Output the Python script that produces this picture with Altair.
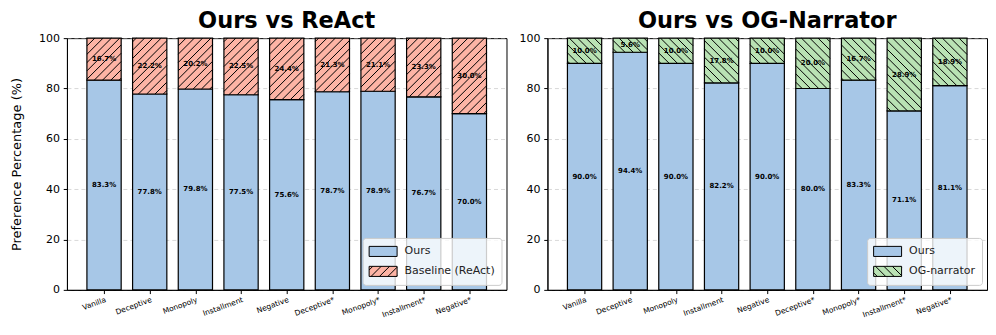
import math
import altair as alt
import pandas as pd

categories = ["Vanilla", "Deceptive", "Monopoly", "Installment", "Negative",
              "Deceptive*", "Monopoly*", "Installment*", "Negative*"]
react_ours = [83.3, 77.8, 79.8, 77.5, 75.6, 78.7, 78.9, 76.7, 70.0]
react_base = [16.7, 22.2, 20.2, 22.5, 24.4, 21.3, 21.1, 23.3, 30.0]
og_ours = [90.0, 94.4, 90.0, 82.2, 90.0, 80.0, 83.3, 71.1, 81.1]
og_base = [10.0, 5.6, 10.0, 17.8, 10.0, 20.0, 16.7, 28.9, 18.9]

COL_OURS = "#a7c7e7"
COL_REACT = "#fdb4a5"
COL_OG = "#b9e2b4"
FONT = "DejaVu Sans"

W, H = 440, 252
BARW = 0.75
XMIN, XMAX = -0.8125, 8.8125
SX = W / (XMAX - XMIN)
SY = H / 100.0
SPACING = 8.3


def clip_lines(X0, X1, Y0, Y1, direction, s):
    """Diagonal hatch segments inside a box (y-up coordinates)."""
    segs = []
    if direction == "/":
        k0 = math.ceil((Y0 - X1) / s)
        k1 = math.floor((Y1 - X0) / s)
        for k in range(k0, k1 + 1):
            c = k * s
            xa, xb = max(X0, Y0 - c), min(X1, Y1 - c)
            if xb - xa > 0.3 * s / SPACING:
                segs.append((xa, xa + c, xb, xb + c))
    else:
        k0 = math.ceil((X0 + Y0) / s)
        k1 = math.floor((X1 + Y1) / s)
        for k in range(k0, k1 + 1):
            c = k * s
            xa, xb = max(X0, c - Y1), min(X1, c - Y0)
            if xb - xa > 0.3 * s / SPACING:
                segs.append((xa, c - xa, xb, c - xb))
    return segs


# legend patch: symbol size 196 -> r = 7px per path unit; box 28 x 10 px
PX0, PX1, PH = -1.0, 3.0, 0.72


def patch_path(direction=None):
    p = f"M{PX0},{-PH}L{PX1},{-PH}L{PX1},{PH}L{PX0},{PH}Z"
    if direction:
        for (xa, ya, xb, yb) in clip_lines(PX0, PX1, -PH, PH, direction, 1.2):
            p += f"M{xa:.3f},{-ya:.3f}L{xb:.3f},{-yb:.3f}"
    return p


label_expr = "[" + ",".join(f"'{c}'" for c in categories) + "][datum.value]"


def panel(ours, base, base_name, base_color, direction, title, ytitle):
    rows = []
    for i, c in enumerate(categories):
        rows.append(dict(idx=i, cat=c, series="Ours", lo=0.0, hi=ours[i], val=ours[i]))
        rows.append(dict(idx=i, cat=c, series=base_name, lo=ours[i],
                         hi=ours[i] + base[i], val=base[i]))
    df = pd.DataFrame(rows)

    hrows = []
    for r in rows:
        if r["series"] != base_name:
            continue
        X0 = (r["idx"] - BARW / 2 - XMIN) * SX
        X1 = (r["idx"] + BARW / 2 - XMIN) * SX
        Y0, Y1 = r["lo"] * SY, r["hi"] * SY
        for (xa, ya, xb, yb) in clip_lines(X0, X1, Y0, Y1, direction, SPACING):
            hrows.append(dict(hx0=xa / SX + XMIN, hy0=ya / SY,
                              hx1=xb / SX + XMIN, hy1=yb / SY))
    hdf = pd.DataFrame(hrows)

    xscale = alt.Scale(domain=[XMIN, XMAX], nice=False, zero=False)
    yscale = alt.Scale(domain=[0, 100], nice=False)
    xaxis = alt.Axis(values=list(range(len(categories))), labelExpr=label_expr,
                     labelAngle=-20, labelAlign="right", labelBaseline="top",
                     labelFontSize=7.5, labelPadding=2, tickSize=3.7, grid=False,
                     labelOverlap=False, labelBound=False, title=None)
    yaxis = alt.Axis(values=[0, 20, 40, 60, 80, 100], grid=True, gridDash=[4, 3],
                     gridColor="#b0b0b0", gridOpacity=0.5, labelFontSize=11,
                     labelPadding=3.7, tickSize=3.7, title=ytitle,
                     titleFontSize=13, titleFontWeight="normal", titlePadding=15)

    domain = ["Ours", base_name]
    fill_scale = alt.Scale(domain=domain, range=[COL_OURS, base_color])
    shape_scale = alt.Scale(domain=domain,
                            range=[patch_path(None), patch_path(direction)])
    stroke_scale = alt.Scale(domain=domain, range=["black", "black"])

    legend = alt.Legend(title=None, orient="bottom-right", offset=5,
                        symbolSize=196, symbolStrokeColor="black",
                        symbolStrokeWidth=1, symbolOpacity=1,
                        labelFont=FONT, labelFontSize=11, labelOffset=21,
                        labelColor="#222", rowPadding=5, padding=6,
                        fillColor="rgba(255,255,255,0.8)", strokeColor="#cccccc",
                        cornerRadius=3)

    basec = alt.Chart(df).transform_calculate(
        x0=f"datum.idx - {BARW / 2}",
        x1=f"datum.idx + {BARW / 2}",
        mid="(datum.lo + datum.hi) / 2",
        label="format(datum.val, '.1f') + '%'",
    )

    bars = basec.mark_rect(stroke="black", strokeWidth=1.2).encode(
        x=alt.X("x0:Q", scale=xscale, axis=xaxis),
        x2="x1:Q",
        y=alt.Y("lo:Q", scale=yscale, axis=yaxis),
        y2="hi:Q",
        fill=alt.Fill("series:N", scale=fill_scale, legend=legend),
    )

    hatch = alt.Chart(hdf).mark_rule(color="black", strokeWidth=1).encode(
        x=alt.X("hx0:Q", scale=xscale, axis=xaxis),
        x2="hx1:Q",
        y=alt.Y("hy0:Q", scale=yscale, axis=yaxis),
        y2="hy1:Q",
    )

    texts = basec.mark_text(fontSize=7, fontWeight="bold", font=FONT,
                            color="black", baseline="middle").encode(
        x=alt.X("idx:Q", scale=xscale, axis=xaxis),
        y=alt.Y("mid:Q", scale=yscale, axis=yaxis),
        text="label:N",
    )

    pts = basec.mark_point(size=0, filled=True, opacity=1,
                           strokeWidth=1).encode(
        x=alt.X("idx:Q", scale=xscale, axis=xaxis),
        y=alt.Y("mid:Q", scale=yscale, axis=yaxis),
        fill=alt.Fill("series:N", scale=fill_scale, legend=legend),
        shape=alt.Shape("series:N", scale=shape_scale, legend=legend),
        stroke=alt.Stroke("series:N", scale=stroke_scale, legend=legend),
    )

    return alt.layer(bars, hatch, texts, pts).properties(
        width=W, height=H,
        title=alt.TitleParams(title, fontSize=22.5, fontWeight="bold", font=FONT,
                              offset=0, color="black"),
    )


left = panel(react_ours, react_base, "Baseline (ReAct)", COL_REACT, "/",
             "Ours vs ReAct", "Preference Percentage (%)")
right = panel(og_ours, og_base, "OG-narrator", COL_OG, "\\",
              "Ours vs OG-Narrator", None)

chart = alt.hconcat(left, right, spacing=41, bounds="flush").resolve_scale(
    fill="independent", shape="independent", stroke="independent",
    x="independent", y="independent"
).properties(
    padding={"left": 2, "top": 1, "right": 0, "bottom": 0}
).configure_view(
    stroke="black", strokeWidth=1
).configure_axis(
    labelFont=FONT, titleFont=FONT, labelColor="black", titleColor="black",
    tickColor="black", domainColor="black",
)

chart.save("out.html", embed_options={"renderer": "svg", "actions": False})
